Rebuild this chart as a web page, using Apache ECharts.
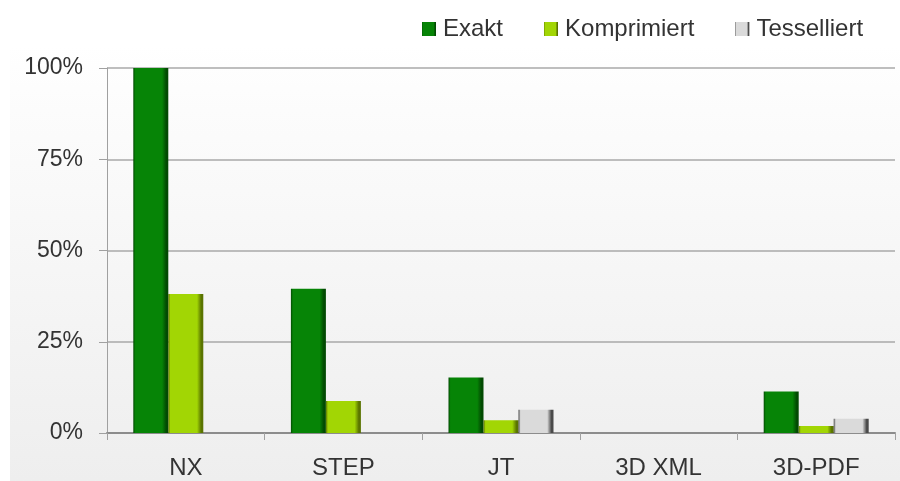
<!DOCTYPE html>
<html>
<head>
<meta charset="utf-8">
<script src="https://cdn.jsdelivr.net/npm/echarts@6/dist/echarts.min.js"></script>
<style>html,body{margin:0;padding:0;background:#fff}#c{width:900px;height:481px}</style>
</head>
<body>
<div id="c"></div>
<script>
var categories = ['NX', 'STEP', 'JT', '3D XML', '3D-PDF'];
var exakt = [100, 39.5, 15.2, 0, 11.4];
var komprimiert = [38.1, 8.8, 3.5, 0, 1.9];
var tesselliert = [0, 0, 6.4, 0, 3.9];

function bevel(main, dark) {
  return new echarts.graphic.LinearGradient(0, 0, 1, 0, [
    {offset: 0, color: dark},
    {offset: 0.06, color: main},
    {offset: 0.82, color: main},
    {offset: 0.94, color: dark},
    {offset: 1, color: dark}
  ]);
}

var font = 'Liberation Sans, Arial, sans-serif';
var chart = echarts.init(document.getElementById('c'), null, {renderer: 'canvas'});
chart.setOption({
  animation: false,
  backgroundColor: '#ffffff',
  graphic: [{
    type: 'rect', z: -10, silent: true,
    shape: {x: 10, y: 45, width: 890, height: 436},
    style: {fill: new echarts.graphic.LinearGradient(0, 0, 0, 1, [
      {offset: 0, color: '#ffffff'}, {offset: 0.15, color: '#fcfcfc'}, {offset: 1, color: '#eeeeee'}])}
  }],
  legend: {
    left: 417, top: 12,
    itemWidth: 14, itemHeight: 14, itemGap: 41,
    icon: 'rect',
    textStyle: {fontFamily: font, fontSize: 24, color: '#333333', padding: [0, 0, 0, 2]},
    data: ['Exakt', 'Komprimiert', 'Tesselliert']
  },
  grid: {left: 107, right: 5, top: 68, bottom: 48, containLabel: false},
  xAxis: {
    type: 'category', data: categories,
    axisLine: {show: true, lineStyle: {color: '#8c8c8c', width: 2}},
    axisTick: {show: true, length: 7, lineStyle: {color: '#a0a0a0', width: 1}},
    axisLabel: {fontFamily: font, fontSize: 24, color: '#333333', margin: 23}
  },
  yAxis: {
    type: 'value', min: 0, max: 100, interval: 25,
    axisLine: {show: true, lineStyle: {color: '#a0a0a0', width: 1}},
    axisTick: {show: true, length: 8, lineStyle: {color: '#a0a0a0'}},
    axisLabel: {fontFamily: font, fontSize: 23, color: '#333333', margin: 24,
      formatter: function (v) { return v + '%'; }},
    splitLine: {show: true, lineStyle: {color: '#a8a8a8', width: 1.5}}
  },
  series: [
    {name: 'Exakt', type: 'bar', data: exakt, barWidth: 35, barGap: '0%',
      itemStyle: {color: bevel('#068406', '#024a02')}},
    {name: 'Komprimiert', type: 'bar', data: komprimiert, barWidth: 35, barGap: '0%',
      itemStyle: {color: bevel('#a2d604', '#5a7400')}},
    {name: 'Tesselliert', type: 'bar', data: tesselliert, barWidth: 35, barGap: '0%',
      itemStyle: {color: bevel('#dadada', '#4a4a4a')}}
  ]
});
</script>
</body>
</html>
